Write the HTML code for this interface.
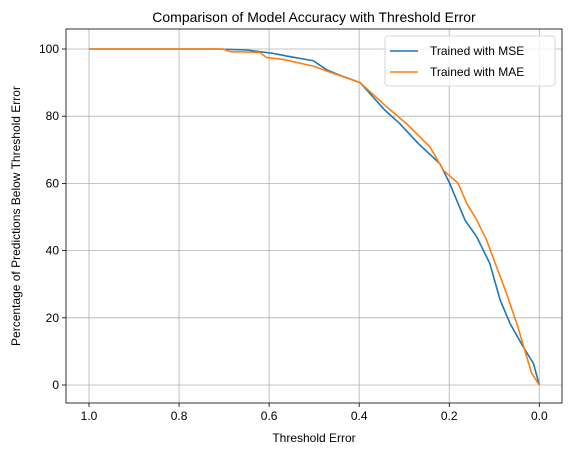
<!DOCTYPE html>
<html><head><meta charset="utf-8"><style>
body{margin:0;background:#fff;}
svg{display:block;font-family:"Liberation Sans","DejaVu Sans",sans-serif;}
</style></head><body>
<svg id="chart" width="571" height="455"></svg>
<script>
const xTicks=[1.0,0.8,0.6,0.4,0.2,0.0];
const xTickLabels=["1.0","0.8","0.6","0.4","0.2","0.0"];
const yTicks=[0,20,40,60,80,100];
const yTickLabels=["0","20","40","60","80","100"];
const mseThreshold=[1.0,0.717,0.650,0.591,0.561,0.502,0.472,0.443,0.398,0.343,0.310,0.269,0.221,0.199,0.165,0.139,0.110,0.087,0.065,0.036,0.013,0.0];
const mseValues=[100,100,99.7,98.7,97.9,96.5,93.8,92.2,90.0,81.8,77.8,71.9,65.9,60.0,49.1,44.1,36.2,25.3,18.3,11.4,6.4,0];
const maeThreshold=[1.0,0.702,0.687,0.621,0.606,0.569,0.502,0.458,0.398,0.339,0.295,0.243,0.213,0.180,0.161,0.139,0.117,0.095,0.073,0.050,0.028,0.017,0.0];
const maeValues=[100,100,99.2,99.0,97.5,96.9,94.9,92.8,90.0,82.8,77.8,70.9,63.9,60.0,54.0,49.1,43.1,35.2,27.3,18.3,8.4,3.5,0];
const svg=document.getElementById('chart');
const NS='http://www.w3.org/2000/svg';
const L=66,R=562,T=29,B=403;
const xs=v=>539.3-(v)*450.3;
const ys=v=>385-v*3.36;
function mk(tag,attrs,parent){const e=document.createElementNS(NS,tag);for(const k in attrs)e.setAttribute(k,attrs[k]);(parent||svg).appendChild(e);return e;}
// grid
xTicks.forEach((t,i)=>{
 const g=mk('line',{x1:xs(t),x2:xs(t),y1:T,y2:B,stroke:'#b0b0b0','stroke-width':0.8});
 
 
 mk('line',{x1:xs(t),x2:xs(t),y1:B,y2:B+4,stroke:'#000','stroke-width':0.8});
 const tx=mk('text',{x:xs(t),y:B+17,'font-size':12,'text-anchor':'middle'});tx.textContent=xTickLabels[i];
 
 
});
yTicks.forEach((t,i)=>{
 const g=mk('line',{x1:L,x2:R,y1:ys(t),y2:ys(t),stroke:'#b0b0b0','stroke-width':0.8});
 
 
 mk('line',{x1:L-4,x2:L,y1:ys(t),y2:ys(t),stroke:'#000','stroke-width':0.8});
 const tx=mk('text',{x:L-7,y:ys(t)+4,'font-size':12,'text-anchor':'end'});tx.textContent=yTickLabels[i];
 
 
});
function series(xa,ya,color,name){
 const p=mk('polyline',{points:xa.map((x,i)=>xs(x)+','+ys(ya[i])).join(' '),fill:'none',stroke:color,'stroke-width':1.6,'stroke-linejoin':'round'});
 
 
}
series(mseThreshold,mseValues,'#1f77b4','mse-line');
series(maeThreshold,maeValues,'#ff7f0e','mae-line');
const frame=mk('rect',{x:L,y:T,width:R-L,height:B-T,fill:'none',stroke:'#000','stroke-width':0.8});


</script>
<svg style="position:absolute;left:0;top:0" width="571" height="455">
<text x="314" y="22" font-size="14" text-anchor="middle">Comparison of Model Accuracy with Threshold Error</text>
<text x="314" y="442" font-size="12" text-anchor="middle">Threshold Error</text>
<text transform="translate(20,216) rotate(-90)" font-size="12" text-anchor="middle">Percentage of Predictions Below Threshold Error</text>
<g>
<rect x="385" y="36" width="170" height="50" rx="3" fill="#fff" fill-opacity="0.8" stroke="#ccc" stroke-width="0.8"/>
<line x1="390" x2="418" y1="51" y2="51" stroke="#1f77b4" stroke-width="1.6"/>
<text x="430" y="55" font-size="12">Trained with MSE</text>
<line x1="390" x2="418" y1="72" y2="72" stroke="#ff7f0e" stroke-width="1.6"/>
<text x="430" y="76" font-size="12">Trained with MAE</text>
</g>
</svg>
</body></html>
